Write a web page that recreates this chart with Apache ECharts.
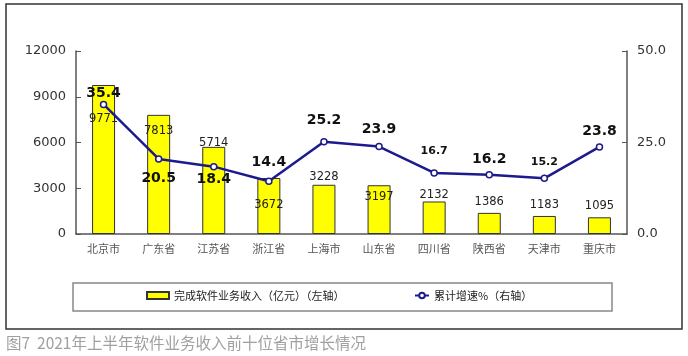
<!DOCTYPE html>
<html>
<head>
<meta charset="utf-8">
<script src="https://cdn.jsdelivr.net/npm/echarts@6/dist/echarts.min.js"></script>
<style>
html,body{margin:0;padding:0;background:#fff;}
#c{width:688px;height:356px;}
</style>
</head>
<body>
<div id="c"></div>
<script>
// ---- data ----
var categories = ['北京市','广东省','江苏省','浙江省','上海市','山东省','四川省','陕西省','天津市','重庆市'];
var revenue = [9771, 7813, 5714, 3672, 3228, 3197, 2132, 1386, 1183, 1095];
var growth = [35.4, 20.5, 18.4, 14.4, 25.2, 23.9, 16.7, 16.2, 15.2, 23.8];
var leftTicks = [0, 3000, 6000, 9000, 12000];
var rightTicks = [0, 25, 50];
var seriesNames = ['完成软件业务收入（亿元）（左轴）', '累计增速%（右轴）'];
var caption = '图7  2021年上半年软件业务收入前十位省市增长情况';

// ---- label placement (style) ----
var barLabelDy = [45, 27, 7, 38, 3, 23, 5, 0, 0, 0];
var lineLabelDy = [5, 35, 28, -3, -6, -1, -7, 0, -2, 0];
var lineLabelSize = [14, 14, 14, 14, 14, 14, 11, 14, 11, 14];

var barData = revenue.map(function (v, i) {
  return { value: v, label: { offset: [0, barLabelDy[i]] } };
});
var lineData = growth.map(function (v, i) {
  return { value: v, label: { offset: [0, lineLabelDy[i]], fontSize: lineLabelSize[i] } };
});

var chart = echarts.init(document.getElementById('c'), null, { renderer: 'canvas' });
var navy = '#1d1a8e';
chart.setOption({
  animation: false,
  backgroundColor: '#fff',
  grid: { left: 76, right: 61, top: 51, bottom: 122 },
  legend: [
    {
      data: [{ name: seriesNames[0], icon: 'rect' }], left: 146, top: 290, itemWidth: 22, itemHeight: 7,
      textStyle: { fontSize: 11, color: '#222', fontFamily: 'Noto Sans CJK SC' }, padding: 0, itemGap: 4
    },
    {
      data: [seriesNames[1]], left: 414, top: 290, itemWidth: 14, itemHeight: 7,
      textStyle: { fontSize: 11, color: '#222', fontFamily: 'Noto Sans CJK SC' }, padding: 0, itemGap: 4
    }
  ],
  xAxis: {
    type: 'category',
    data: categories,
    axisLine: { lineStyle: { color: '#555', width: 1.5 } },
    axisTick: { inside: true, length: 4, lineStyle: { color: '#555' } },
    axisLabel: { color: '#555', fontSize: 11, margin: 9, fontFamily: 'Noto Sans CJK SC' }
  },
  yAxis: [
    {
      type: 'value', min: leftTicks[0], max: leftTicks[leftTicks.length - 1], interval: leftTicks[1] - leftTicks[0],
      splitLine: { show: false },
      axisLine: { show: true, lineStyle: { color: '#555', width: 1.5 } },
      axisTick: { show: true, inside: true, length: 5, lineStyle: { color: '#555' } },
      axisLabel: { color: '#333', fontSize: 13, margin: 10, fontFamily: 'DejaVu Sans',
        formatter: function (v) { return String(v); } }
    },
    {
      type: 'value', min: rightTicks[0], max: rightTicks[rightTicks.length - 1], interval: rightTicks[1] - rightTicks[0],
      splitLine: { show: false },
      axisLine: { show: true, lineStyle: { color: '#555', width: 1.5 } },
      axisTick: { show: true, inside: true, length: 5, lineStyle: { color: '#555' } },
      axisLabel: { color: '#333', fontSize: 13, margin: 10, fontFamily: 'DejaVu Sans',
        formatter: function (v) { return v.toFixed(1); } }
    }
  ],
  series: [
    {
      name: seriesNames[0],
      type: 'bar',
      data: barData,
      barWidth: 23,
      itemStyle: { color: '#ffff00', borderColor: '#333', borderWidth: 1 },
      label: { show: true, position: 'top', distance: 5, color: '#222', fontSize: 11.5, fontFamily: 'DejaVu Sans' },
      z: 2
    },
    {
      name: seriesNames[1],
      type: 'line',
      yAxisIndex: 1,
      data: lineData,
      symbol: 'circle',
      symbolSize: 6,
      lineStyle: { color: navy, width: 2.5 },
      itemStyle: { color: '#fff', borderColor: navy, borderWidth: 1.5 },
      label: { show: true, position: 'top', distance: 5, color: '#111', fontWeight: 'bold', fontFamily: 'DejaVu Sans',
        formatter: function (p) { return p.value.toFixed(1); } },
      z: 3
    }
  ],
  graphic: [
    { type: 'rect', shape: { x: 6, y: 4, width: 676, height: 325 }, style: { fill: 'none', stroke: '#333', lineWidth: 1.5 }, silent: true, z: -1 },
    { type: 'rect', shape: { x: 73, y: 283, width: 539, height: 28 }, style: { fill: 'none', stroke: '#888', lineWidth: 1.5 }, silent: true, z: -1 },
    { type: 'text', left: 6, top: 335, style: { text: caption, fill: '#a0a0a0', fontSize: 15.5, fontFamily: 'Noto Sans CJK SC' } }
  ]
});
</script>
</body>
</html>
